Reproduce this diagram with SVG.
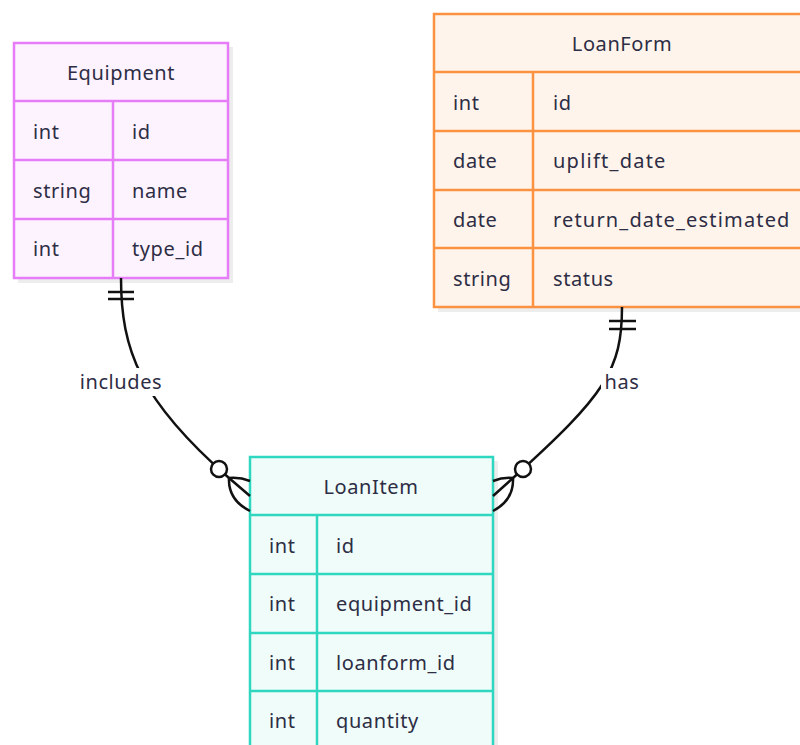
<svg xmlns="http://www.w3.org/2000/svg" width="800" height="745" viewBox="0 0 800 745">
<style>
text{font-family:"Noto Sans","Liberation Sans",sans-serif;font-size:20px;letter-spacing:0.6px;fill:#2d2d45;dominant-baseline:central}
.h{text-anchor:middle}
.sh{fill:#000;opacity:0.07}
.eq rect.c,.eq line{stroke:#e67cf7;stroke-width:2.5;fill:#fdf3fe}
.lf rect.c,.lf line{stroke:#fb9241;stroke-width:2.5;fill:#fff4eb}
.li rect.c,.li line{stroke:#2fd6c0;stroke-width:2.5;fill:#effcf9}
.con path,.con line{fill:none;stroke:#111;stroke-width:2.5}
.con circle{fill:#fff;stroke:#111;stroke-width:2.5}
.lbl{fill:#fff}
</style>
<rect width="800" height="745" fill="#fff"/>
<g id="Equipment" class="eq">
<rect class="sh" x="18" y="47" width="215" height="236"/>
<rect class="c" x="14" y="43" width="214" height="235"/>
<line x1="14" y1="101" x2="228" y2="101"/>
<line x1="14" y1="160" x2="228" y2="160"/>
<line x1="14" y1="219" x2="228" y2="219"/>
<line x1="113" y1="101" x2="113" y2="278"/>
<text class="h" x="121" y="72">Equipment</text>
<text x="33" y="131">int</text><text x="132" y="131">id</text>
<text x="33" y="190">string</text><text x="132" y="190">name</text>
<text x="33" y="248">int</text><text x="132" y="248">type_id</text>
</g>
<g id="LoanForm" class="lf">
<rect class="sh" x="438" y="18" width="380" height="294"/>
<rect class="c" x="434" y="14" width="380" height="293"/>
<line x1="434" y1="72" x2="814" y2="72"/>
<line x1="434" y1="131" x2="814" y2="131"/>
<line x1="434" y1="190" x2="814" y2="190"/>
<line x1="434" y1="248" x2="814" y2="248"/>
<line x1="533" y1="72" x2="533" y2="307"/>
<text class="h" x="622" y="43">LoanForm</text>
<text x="453" y="102">int</text><text x="553" y="102">id</text>
<text x="453" y="160">date</text><text x="553" y="160" textLength="113">uplift_date</text>
<text x="453" y="219">date</text><text x="553" y="219" textLength="237">return_date_estimated</text>
<text x="453" y="278">string</text><text x="553" y="278">status</text>
</g>
<g id="LoanItem" class="li">
<rect class="sh" x="254" y="461" width="244" height="300"/>
<rect class="c" x="250" y="457" width="243" height="300"/>
<line x1="250" y1="515" x2="493" y2="515"/>
<line x1="250" y1="574" x2="493" y2="574"/>
<line x1="250" y1="633" x2="493" y2="633"/>
<line x1="250" y1="691" x2="493" y2="691"/>
<line x1="317" y1="515" x2="317" y2="760"/>
<text class="h" x="371" y="486">LoanItem</text>
<text x="269" y="545">int</text><text x="336" y="545">id</text>
<text x="269" y="603">int</text><text x="336" y="603">equipment_id</text>
<text x="269" y="662">int</text><text x="336" y="662">loanform_id</text>
<text x="269" y="720">int</text><text x="336" y="720">quantity</text>
</g>
<g id="connectors" class="con">
<path d="M121,278 C121,350 140,400 229,478 L250,496"/>
<line x1="108" y1="292" x2="134" y2="292"/>
<line x1="108" y1="299" x2="134" y2="299"/>
<path d="M229,478 Q240,477 250,481"/>
<path d="M229,478 Q228,500 250,511"/>
<circle cx="219" cy="469" r="8"/>
<rect class="lbl" x="74" y="368" width="94" height="28"/>
<text class="h" x="121" y="381">includes</text>
<path d="M622,307 C622,370 605,395 513,478 L493,496"/>
<line x1="609" y1="321" x2="636" y2="321"/>
<line x1="609" y1="329" x2="636" y2="329"/>
<path d="M513,478 Q503,477 493,481"/>
<path d="M513,478 Q514,500 493,511"/>
<circle cx="523" cy="469" r="8"/>
<rect class="lbl" x="601" y="368" width="42" height="28"/>
<text class="h" x="622" y="381">has</text>
</g>
</svg>
